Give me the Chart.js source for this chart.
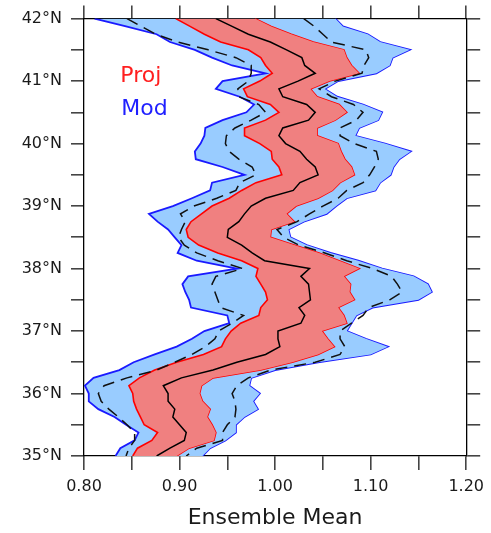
<!DOCTYPE html>
<html>
<head>
<meta charset="utf-8">
<script src="https://cdn.jsdelivr.net/npm/chart.js@4/dist/chart.umd.min.js"></script>
<style>
  body { margin: 0; background: #fff; }
  canvas { display: block; }
</style>
</head>
<body>
<canvas id="chart-profile" width="491" height="533"></canvas>
<script>
// latitude rows, top (42N) to bottom (35N)
const lat = [42, 41.875, 41.75, 41.625, 41.5, 41.375, 41.25, 41.125,
  41, 40.875, 40.75, 40.625, 40.5, 40.375, 40.25, 40.125,
  40, 39.875, 39.75, 39.625, 39.5, 39.375, 39.25, 39.125,
  39, 38.875, 38.75, 38.625, 38.5, 38.375, 38.25, 38.125,
  38, 37.875, 37.75, 37.625, 37.5, 37.375, 37.25, 37.125,
  37, 36.875, 36.75, 36.625, 36.5, 36.375, 36.25, 36.125,
  36, 35.875, 35.75, 35.625, 35.5, 35.375, 35.25, 35.125, 35];

// ensemble mean (black)
const ensMean = [0.938, 0.955, 0.972, 0.995, 1.012, 1.028, 1.031, 1.042,
  1.024, 1.004, 1.008, 1.033, 1.042, 1.035, 1.008, 1.004,
  1.011, 1.026, 1.033, 1.042, 1.045, 1.026, 1.019, 0.990,
  0.975, 0.968, 0.962, 0.951, 0.950, 0.965, 0.976, 0.989,
  1.036, 1.027, 1.035, 1.036, 1.037, 1.025, 1.031, 1.027,
  1.003, 1.003, 1.005, 0.990, 0.960, 0.935, 0.902, 0.883,
  0.888, 0.888, 0.895, 0.893, 0.900, 0.907, 0.905, 0.890, 0.876];

// Proj range (red)
const projLo = [0.896, 0.911, 0.926, 0.943, 0.972, 0.985, 0.990, 0.997,
  0.984, 0.967, 0.971, 0.995, 1.004, 0.990, 0.968, 0.968,
  0.984, 0.996, 0.997, 1.004, 1.007, 0.980, 0.965, 0.952,
  0.934, 0.923, 0.912, 0.907, 0.909, 0.920, 0.940, 0.965,
  0.982, 0.980, 0.985, 0.990, 0.992, 0.985, 0.983, 0.964,
  0.954, 0.948, 0.944, 0.925, 0.897, 0.874, 0.858, 0.847,
  0.851, 0.852, 0.855, 0.859, 0.863, 0.877, 0.871, 0.856, 0.851];
const projHi = [0.979, 0.996, 1.017, 1.040, 1.072, 1.075, 1.080, 1.088,
  1.057, 1.037, 1.044, 1.067, 1.075, 1.063, 1.044, 1.044,
  1.066, 1.069, 1.073, 1.080, 1.083, 1.068, 1.060, 1.045,
  1.022, 1.012, 1.020, 0.996, 0.995, 1.020, 1.046, 1.067,
  1.088, 1.072, 1.079, 1.078, 1.083, 1.066, 1.072, 1.075,
  1.049, 1.055, 1.062, 1.045, 1.018, 0.985, 0.935, 0.923,
  0.921, 0.924, 0.932, 0.929, 0.934, 0.938, 0.936, 0.910, 0.897];

// Mod range (blue)
const modLo = [0.811, 0.844, 0.876, 0.890, 0.916, 0.934, 0.955, 0.990,
  0.945, 0.938, 0.963, 0.978, 0.970, 0.945, 0.927, 0.926,
  0.922, 0.916, 0.917, 0.945, 0.968, 0.934, 0.932, 0.913,
  0.893, 0.868, 0.877, 0.888, 0.895, 0.902, 0.898, 0.918,
  0.960, 0.909, 0.903, 0.906, 0.910, 0.912, 0.950, 0.952,
  0.926, 0.913, 0.897, 0.874, 0.852, 0.837, 0.810, 0.801,
  0.805, 0.805, 0.815, 0.832, 0.844, 0.857, 0.853, 0.838, 0.833];
const modHi = [1.063, 1.071, 1.097, 1.110, 1.141, 1.123, 1.120, 1.106,
  1.066, 1.052, 1.065, 1.092, 1.112, 1.108, 1.088, 1.084,
  1.115, 1.142, 1.130, 1.124, 1.121, 1.110, 1.105, 1.075,
  1.064, 1.054, 1.030, 1.014, 1.016, 1.033, 1.058, 1.087,
  1.112, 1.145, 1.160, 1.164, 1.150, 1.102, 1.085, 1.080,
  1.075, 1.095, 1.118, 1.100, 1.045, 1.000, 0.975, 0.973,
  0.984, 0.977, 0.982, 0.968, 0.959, 0.959, 0.948, 0.932, 0.924];

// dashed lines inside the Mod range
const modDashLo = [0.845, 0.860, 0.875, 0.898, 0.930, 0.959, 0.975, 0.975,
  0.972, 0.961, 0.962, 0.983, 0.990, 0.975, 0.958, 0.949,
  0.948, 0.952, 0.962, 0.976, 0.980, 0.963, 0.959, 0.939,
  0.915, 0.901, 0.906, 0.902, 0.899, 0.905, 0.918, 0.940,
  0.966, 0.938, 0.934, 0.937, 0.940, 0.943, 0.967, 0.955,
  0.941, 0.937, 0.927, 0.913, 0.895, 0.876, 0.845, 0.821,
  0.815, 0.818, 0.826, 0.836, 0.845, 0.853, 0.853, 0.847, 0.844];
const modDashHi = [1.030, 1.041, 1.050, 1.059, 1.095, 1.098, 1.093, 1.091,
  1.063, 1.046, 1.059, 1.082, 1.092, 1.085, 1.068, 1.068,
  1.083, 1.106, 1.108, 1.104, 1.099, 1.092, 1.075, 1.066,
  1.050, 1.036, 1.023, 1.002, 1.009, 1.025, 1.052, 1.075,
  1.102, 1.122, 1.128, 1.133, 1.120, 1.098, 1.092, 1.080,
  1.068, 1.068, 1.073, 1.068, 1.042, 0.995, 0.972, 0.960,
  0.955, 0.958, 0.959, 0.958, 0.950, 0.945, 0.945, 0.918, 0.907];

const xMin = 0.80, xMax = 1.20, xStep = 0.05;
const yMin = 35, yMax = 42, yStep = 0.5;

function pts(vals) {
    return vals.map((v, i) => ({ x: v, y: lat[i] }));
}

const FONT = 'DejaVu Sans';

function xLabel(v) {
    const r = Math.round(v * 100);
    return r % 10 === 0 ? (r / 100).toFixed(2) : '';
}
function yLabel(v) {
    const r = Math.round(v);
    return Math.abs(v - r) < 1e-6 ? r + '\u00B0N' : '';
}

const tickGrid = (len) => ({ drawOnChartArea: false, drawTicks: true, tickLength: len, color: '#444', lineWidth: 1.6 });
const frame = { display: true, color: '#000', width: 1.3 };

// "Proj" / "Mod" labels, placed in data units
const bandLabels = {
    id: 'bandLabels',
    afterDraw(chart) {
        const { ctx, scales } = chart;
        ctx.save();
        ctx.font = '22px "' + FONT + '"';
        ctx.textBaseline = 'alphabetic';
        ctx.textAlign = 'left';
        ctx.fillStyle = '#ff1f1f';
        ctx.fillText('Proj', scales.x.getPixelForValue(0.838), scales.y.getPixelForValue(40.99));
        ctx.fillStyle = '#1f1fff';
        ctx.fillText('Mod', scales.x.getPixelForValue(0.839), scales.y.getPixelForValue(40.45));
        ctx.restore();
    }
};

const line = (label, vals, color, width, extra) => Object.assign({
    label, data: pts(vals), borderColor: color, borderWidth: width,
    pointRadius: 0, tension: 0, fill: false, xAxisID: 'x', yAxisID: 'y'
}, extra || {});

new Chart(document.getElementById('chart-profile').getContext('2d'), {
    type: 'line',
    data: {
        datasets: [
            line('Mean', ensMean, '#000', 1.5),
            line('Mod -sd', modDashLo, '#111', 1.5, { borderDash: [12, 7] }),
            line('Mod +sd', modDashHi, '#111', 1.5, { borderDash: [12, 7] }),
            line('Proj min', projLo, '#ff0000', 1.6, { fill: '+1', backgroundColor: 'rgb(240,128,128)' }),
            line('Proj max', projHi, '#ff0000', 1.6),
            line('Mod min', modLo, '#1a1aff', 1.8, { fill: '+1', backgroundColor: 'rgb(153,204,255)' }),
            line('Mod max', modHi, '#1a1aff', 1.8)
        ]
    },
    options: {
        responsive: false,
        animation: false,
        indexAxis: 'y',
        layout: { padding: { top: 5, right: 8, left: 0, bottom: 0 } },
        plugins: { legend: { display: false }, tooltip: { enabled: false } },
        scales: {
            x: {
                type: 'linear', axis: 'x', position: 'bottom', min: xMin, max: xMax,
                ticks: { stepSize: xStep, autoSkip: false, maxRotation: 0, padding: 7, color: '#1a1a1a',
                         font: { family: FONT, size: 16 }, callback: xLabel },
                grid: tickGrid(14), border: frame,
                title: { display: true, text: 'Ensemble Mean', color: '#1a1a1a',
                         font: { family: FONT, size: 22 }, padding: { top: 0, bottom: 2 } },
                afterFit: s => { s.height = 77; }
            },
            x2: {
                type: 'linear', axis: 'x', position: 'top', min: xMin, max: xMax,
                ticks: { stepSize: xStep, autoSkip: false, display: false },
                grid: tickGrid(13), border: frame,
                afterFit: s => { s.height = 13; }
            },
            y: {
                type: 'linear', axis: 'y', position: 'left', min: yMin, max: yMax,
                ticks: { stepSize: yStep, autoSkip: false, padding: 9, color: '#1a1a1a',
                         font: { family: FONT, size: 16 }, callback: yLabel },
                grid: tickGrid(13), border: frame,
                afterFit: s => { s.width = 84; }
            },
            y2: {
                type: 'linear', axis: 'y', position: 'right', min: yMin, max: yMax,
                ticks: { stepSize: yStep, autoSkip: false, display: false },
                grid: tickGrid(14), border: frame,
                afterFit: s => { s.width = 14; }
            }
        }
    },
    plugins: [bandLabels]
});
</script>
</body>
</html>
